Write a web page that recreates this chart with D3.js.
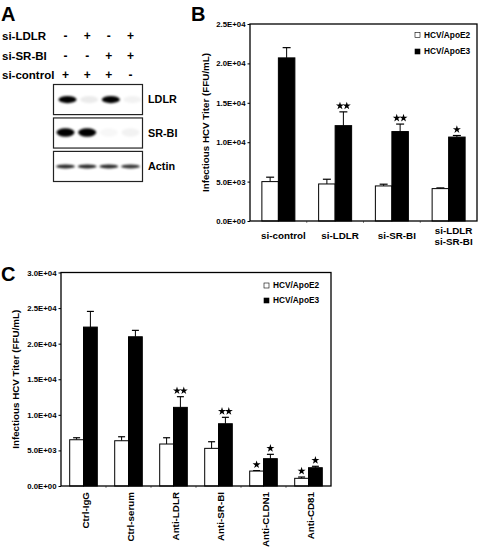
<!DOCTYPE html>
<html><head><meta charset="utf-8">
<script src="https://cdn.jsdelivr.net/npm/d3@7"></script>
<style>
body{margin:0;background:#fff}
svg{display:block;font-family:"Liberation Sans",Arial,Helvetica,sans-serif;font-weight:bold}
</style>
</head><body><svg id="c" width="480" height="547"></svg>
<script>
// ---------- data ----------
const seriesNames = ["HCV/ApoE2", "HCV/ApoE3"];

const categoriesB = ["si-control", "si-LDLR", "si-SR-BI", "si-LDLR\nsi-SR-BI"];
const apoE2B = [5000, 4700, 4450, 4110];
const apoE2ErrB = [560, 600, 220, 90];
const apoE3B = [20700, 12100, 11350, 10650];
const apoE3ErrB = [1300, 1750, 950, 200];
const starsE2B = [0, 0, 0, 0];
const starsE3B = [0, 2, 2, 1];
const yTicksB = [0, 5000, 10000, 15000, 20000, 25000];

const categoriesC = ["Ctrl-IgG", "Ctrl-serum", "Anti-LDLR", "Anti-SR-BI", "Anti-CLDN1", "Anti-CD81"];
const apoE2C = [6500, 6360, 5900, 5290, 2100, 1080];
const apoE2ErrC = [280, 560, 880, 930, 60, 180];
const apoE3C = [22330, 20970, 11050, 8750, 3840, 2570];
const apoE3ErrC = [2200, 900, 1500, 900, 610, 200];
const starsE2C = [0, 0, 0, 0, 1, 1];
const starsE3C = [0, 0, 2, 2, 1, 1];
const yTicksC = [0, 5000, 10000, 15000, 20000, 25000, 30000];

// western blot (panel A)
const lanes = [1, 2, 3, 4];
const treatmentRows = ["si-LDLR", "si-SR-BI", "si-control"];
const siLDLR = ["-", "+", "-", "+"];
const siSRBI = ["-", "-", "+", "+"];
const siControl = ["+", "+", "+", "-"];
const blotProteins = ["LDLR", "SR-BI", "Actin"];
const ldlrSignal = [1, 0.08, 1, 0.05];
const srbiSignal = [1, 1, 0.03, 0.05];
const actinSignal = [0.85, 0.85, 0.85, 0.8];

// ---------- helpers ----------
const svg = d3.select("#c");
svg.append("rect").attr("width", 480).attr("height", 547).attr("fill", "#fff");

function sci(v) {
  const s = v.toExponential(1).toUpperCase();
  const m = s.match(/^(.*)E([+-])(\d+)$/);
  return m[1] + "E" + m[2] + m[3].padStart(2, "0");
}

const defs = svg.append("defs");
defs.append("filter").attr("id", "blur").attr("x", "-50%").attr("y", "-100%").attr("width", "200%").attr("height", "300%")
  .append("feGaussianBlur").attr("stdDeviation", 1.1);

function panelLabel(t, x, y) {
  svg.append("text").attr("x", x).attr("y", y).attr("font-size", 20).attr("font-weight", "bold").text(t);
}

// ---------- Panel A ----------
panelLabel("A", 1, 21);
const laneX = d3.scalePoint().domain(lanes).range([65.5, 130.5]);
const rowY = d3.scalePoint().domain(treatmentRows).range([36, 75]);
const signs = [siLDLR, siSRBI, siControl];
treatmentRows.forEach((r, i) => {
  svg.append("text").attr("x", 2).attr("y", rowY(r)).attr("dy", "0.36em")
    .attr("font-size", 11.5).text(r);
  svg.selectAll(null).data(signs[i]).enter().append("text")
    .attr("x", (d, j) => laneX(lanes[j])).attr("y", rowY(r)).attr("dy", "0.36em")
    .attr("text-anchor", "middle").attr("font-size", 12).text(d => d);
});
const boxY = d3.scaleBand().domain(blotProteins).range([84.5, 181.5]).paddingInner(0.1);
const signals = [ldlrSignal, srbiSignal, actinSignal];
const bandShape = [{rx: 9, ry: 3.6}, {rx: 9, ry: 4.2}, {rx: 9.5, ry: 2}];
blotProteins.forEach((p, i) => {
  const y0 = boxY(p), h = boxY.bandwidth();
  svg.append("rect").attr("x", 53.5).attr("y", y0).attr("width", 89).attr("height", h)
    .attr("fill", "#fff").attr("stroke", "#222").attr("stroke-width", 1.2);
  const cy = y0 + h / 2 + (i === 1 ? -0.5 : 0);
  svg.append("g").attr("filter", "url(#blur)").selectAll("ellipse").data(signals[i]).enter().append("ellipse")
    .attr("cx", (d, j) => laneX(lanes[j]) + (i === 0 ? 2 : 0))
    .attr("cy", cy)
    .attr("rx", bandShape[i].rx).attr("ry", bandShape[i].ry)
    .attr("fill", "#000").attr("opacity", d => d);
  svg.append("text").attr("x", 148).attr("y", y0 + h / 2).attr("dy", "0.36em")
    .attr("font-size", 10.8).text(p);
});

// ---------- bar chart ----------
function drawStar(g, cx, cy, n) {
  const sym = d3.symbol().type(d3.symbolStar).size(20);
  for (let k = 0; k < n; k++) {
    const dx = n === 2 ? (k === 0 ? -3.4 : 3.4) : 0;
    g.append("path").attr("d", sym()).attr("transform", `translate(${cx + dx},${cy})`).attr("fill", "#000");
  }
}

function barChart(cfg) {
  const g = svg.append("g");
  const x = d3.scaleBand().domain(cfg.categories).range([cfg.left, cfg.right]);
  const y = d3.scaleLinear().domain([0, cfg.yMax]).range([cfg.bottom, cfg.top]);
  const w = cfg.barW;
  const xs = d3.scaleBand().domain(seriesNames).range([-w, w]);
  const series = [
    {name: seriesNames[0], vals: cfg.e2, errs: cfg.e2err, stars: cfg.s2, fill: "#fff"},
    {name: seriesNames[1], vals: cfg.e3, errs: cfg.e3err, stars: cfg.s3, fill: "#000"}
  ];
  const ax = g.append("g").attr("transform", `translate(${cfg.left},0)`)
    .call(d3.axisLeft(y).tickValues(cfg.yTicks).tickFormat(sci).tickSize(2.5).tickPadding(2));
  ax.select(".domain").remove();
  ax.selectAll("text").attr("font-size", 7.8).attr("font-weight", "bold")
    .attr("font-family", '"Liberation Sans",Arial,sans-serif').attr("fill", "#000");
  ax.selectAll("line").attr("stroke", "#000");
  g.selectAll(null).data(cfg.categories.slice(1)).enter().append("line")
    .attr("x1", d => x(d)).attr("x2", d => x(d))
    .attr("y1", cfg.bottom).attr("y2", cfg.bottom + 2).attr("stroke", "#888");
  series.forEach(s => {
    cfg.categories.forEach((c, i) => {
      const cx = x(c) + x.bandwidth() / 2;
      const bx = cx + xs(s.name);
      const bw = xs.bandwidth();
      const top = y(s.vals[i]);
      const capY = y(s.vals[i] + s.errs[i]);
      g.append("line").attr("x1", bx + bw / 2).attr("x2", bx + bw / 2)
        .attr("y1", top).attr("y2", capY).attr("stroke", "#000").attr("stroke-width", 1);
      g.append("line").attr("x1", bx + bw / 2 - cfg.capW / 2).attr("x2", bx + bw / 2 + cfg.capW / 2)
        .attr("y1", capY).attr("y2", capY).attr("stroke", "#000").attr("stroke-width", 1.2);
      g.append("rect").attr("x", bx).attr("y", top).attr("width", bw).attr("height", cfg.bottom - top)
        .attr("fill", s.fill).attr("stroke", "#000").attr("stroke-width", 1);
      if (s.stars[i]) drawStar(g, bx + bw / 2, capY - 6, s.stars[i]);
    });
  });
  g.append("rect").attr("x", cfg.left).attr("y", cfg.top).attr("width", cfg.right - cfg.left)
    .attr("height", cfg.bottom - cfg.top).attr("fill", "none").attr("stroke", "#000").attr("stroke-width", 1.3);
  series.forEach((s, i) => {
    const ly = cfg.legY + i * cfg.legGap;
    g.append("rect").attr("x", cfg.legX).attr("y", ly - 2.5).attr("width", 5).attr("height", 5)
      .attr("fill", s.fill).attr("stroke", "#000").attr("stroke-width", 0.6);
    g.append("text").attr("x", cfg.legX + 9).attr("y", ly).attr("dy", "0.36em")
      .attr("font-size", 8.3).text(s.name);
  });
  g.append("text").attr("transform", `translate(${cfg.yTitleX},${(cfg.top + cfg.bottom) / 2}) rotate(-90)`)
    .attr("text-anchor", "middle").attr("dy", "0.36em").attr("font-size", 9.8)
    .text("Infectious HCV Titer (FFU/mL)");
  cfg.categories.forEach(c => {
    const cx = x(c) + x.bandwidth() / 2;
    if (cfg.rotate) {
      g.append("text").attr("transform", `translate(${cx + 2},${cfg.bottom + 6}) rotate(-90)`)
        .attr("text-anchor", "end").attr("dy", "0.36em").attr("font-size", 9.8).text(c);
    } else {
      const lines = c.split("\n");
      lines.forEach((ln, k) => {
        g.append("text").attr("x", cx + 5).attr("y", cfg.bottom + (lines.length === 1 ? 18 : 13 + k * 11))
          .attr("text-anchor", "middle").attr("font-size", 9.8).text(ln);
      });
    }
  });
}

panelLabel("B", 191, 21);
barChart({
  categories: categoriesB, e2: apoE2B, e2err: apoE2ErrB, e3: apoE3B, e3err: apoE3ErrB,
  s2: starsE2B, s3: starsE3B, yTicks: yTicksB, yMax: 25000,
  left: 250, right: 477, top: 24, bottom: 221, barW: 16.5, capW: 8,
  legX: 415, legY: 35, legGap: 16.5, yTitleX: 205, rotate: false
});

panelLabel("C", 1, 281);
barChart({
  categories: categoriesC, e2: apoE2C, e2err: apoE2ErrC, e3: apoE3C, e3err: apoE3ErrC,
  s2: starsE2C, s3: starsE3C, yTicks: yTicksC, yMax: 30000,
  left: 61, right: 331, top: 272.5, bottom: 486, barW: 13.8, capW: 7,
  legX: 264, legY: 285.5, legGap: 15, yTitleX: 15, rotate: true
});
</script>
</body></html>
